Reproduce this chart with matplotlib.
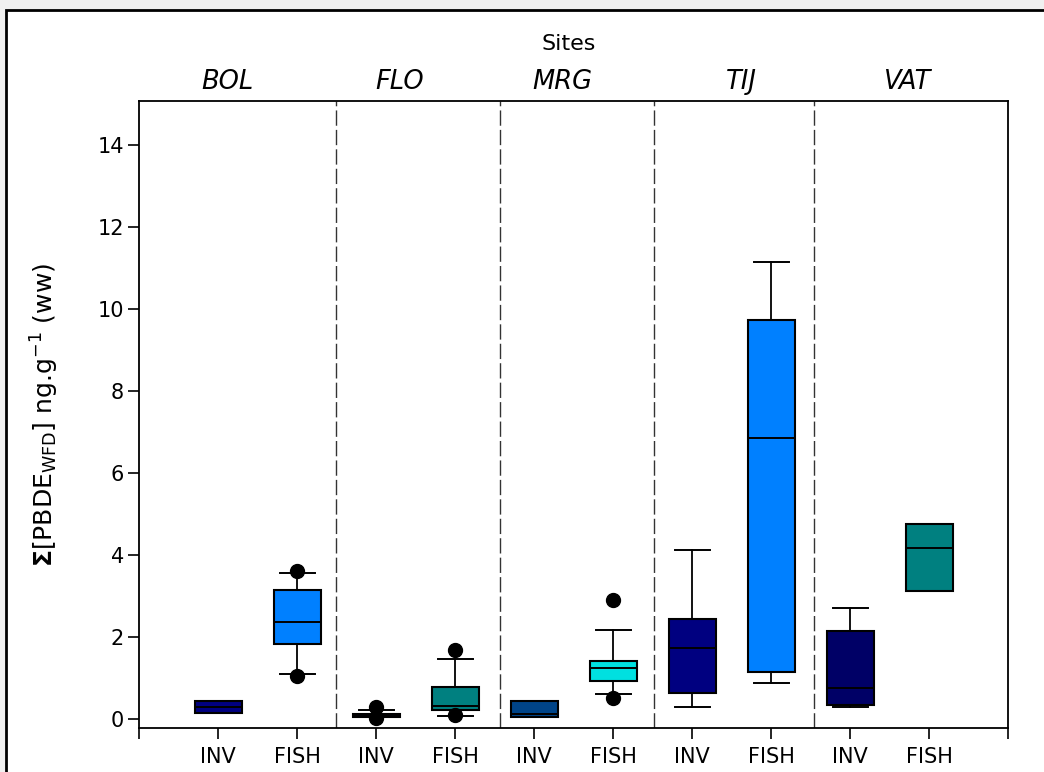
import matplotlib
matplotlib.use('Agg')
import matplotlib.pyplot as plt
from matplotlib.patches import Rectangle
import matplotlib.transforms as mtransforms

plt.rcParams['font.family'] = ['DejaVu Sans']

# Data
sites = ['BOL', 'FLO', 'MRG', 'TIJ', 'VAT']
types = ['INV', 'FISH']
q1 = [0.15, 1.84, 0.07, 0.23, 0.05, 0.93, 0.65, 1.15, 0.35, 3.14]
med = [0.31, 2.37, 0.10, 0.33, 0.12, 1.25, 1.73, 6.86, 0.77, 4.18]
q3 = [0.46, 3.16, 0.13, 0.80, 0.44, 1.42, 2.44, 9.75, 2.15, 4.77]
whislo = [0.15, 1.10, 0.05, 0.08, 0.05, 0.61, 0.29, 0.89, 0.29, 3.14]
whishi = [0.46, 3.57, 0.22, 1.48, 0.44, 2.17, 4.12, 11.15, 2.71, 4.77]
fliers = [[], [3.63, 1.07], [0.30, 0.03], [1.68, 0.10], [], [2.92, 0.53], [], [], [], []]
box_colors = ['#000080', '#0080FF', '#000080', '#008080', '#004488',
              '#00E0E0', '#000080', '#0080FF', '#000066', '#008080']
separators = [2.49, 4.56, 6.51, 8.54]
site_label_x = [1.11, 3.30, 5.36, 7.62, 9.72]

fig = plt.figure(figsize=(10.44, 7.72), dpi=100)
fig.patch.set_facecolor('#f0f0f0')
frame = Rectangle((6 / 1044, -0.02), 1.05, 1.02 - 10 / 772,
                  transform=fig.transFigure, facecolor='white',
                  edgecolor='black', linewidth=2, zorder=-5)
fig.add_artist(frame)

ax = fig.add_axes([139.3 / 1044, 1 - 728 / 772, (1008.3 - 139.3) / 1044, 627 / 772])
ax.set_facecolor('white')

stats = []
for i in range(len(q1)):
    stats.append(dict(q1=q1[i], med=med[i], q3=q3[i], whislo=whislo[i],
                      whishi=whishi[i], fliers=fliers[i]))

positions = list(range(1, len(q1) + 1))
bp = ax.bxp(stats, positions=positions, widths=0.6, capwidths=0.44,
            showfliers=True, patch_artist=True,
            boxprops=dict(linewidth=1.5, edgecolor='black'),
            medianprops=dict(color='black', linewidth=1.4),
            whiskerprops=dict(color='black', linewidth=1.3),
            capprops=dict(color='black', linewidth=1.4),
            flierprops=dict(marker='o', markerfacecolor='black',
                            markeredgecolor='black', markersize=10))
for patch, c in zip(bp['boxes'], box_colors):
    patch.set_facecolor(c)

for s in separators:
    ax.axvline(s, color='#333333', linewidth=1.0, linestyle=(0, (11, 3)), zorder=0.5)

ax.set_xlim(0, 11)
ax.set_ylim(-0.21, 15.08)
ax.set_yticks(range(0, 15, 2))
ax.set_xticks(range(0, 12))
ax.set_xticklabels([''] + types * len(sites) + [''])
ax.tick_params(axis='both', direction='out', length=8, width=1.2, labelsize=15)
ax.tick_params(axis='y', pad=3)
ax.tick_params(axis='x', pad=6)
for sp in ax.spines.values():
    sp.set_linewidth(1.3)

ax.set_ylabel(r'$\mathbf{\Sigma}$[PBDE$_{\mathrm{WFD}}$] ng.g$^{\mathrm{-1}}$ (ww)', fontsize=18)
ax.yaxis.set_label_coords(-0.09, 0.5)

trans = mtransforms.blended_transform_factory(ax.transData, ax.transAxes)
for x, name in zip(site_label_x, sites):
    ax.text(x, 1.031, name, transform=trans, ha='center', va='center',
            fontsize=18.5, style='italic')
ax.text(5.44, 1.091, 'Sites', transform=trans, ha='center', va='center', fontsize=16)

fig.savefig('out.png', dpi=100, facecolor=fig.get_facecolor())
